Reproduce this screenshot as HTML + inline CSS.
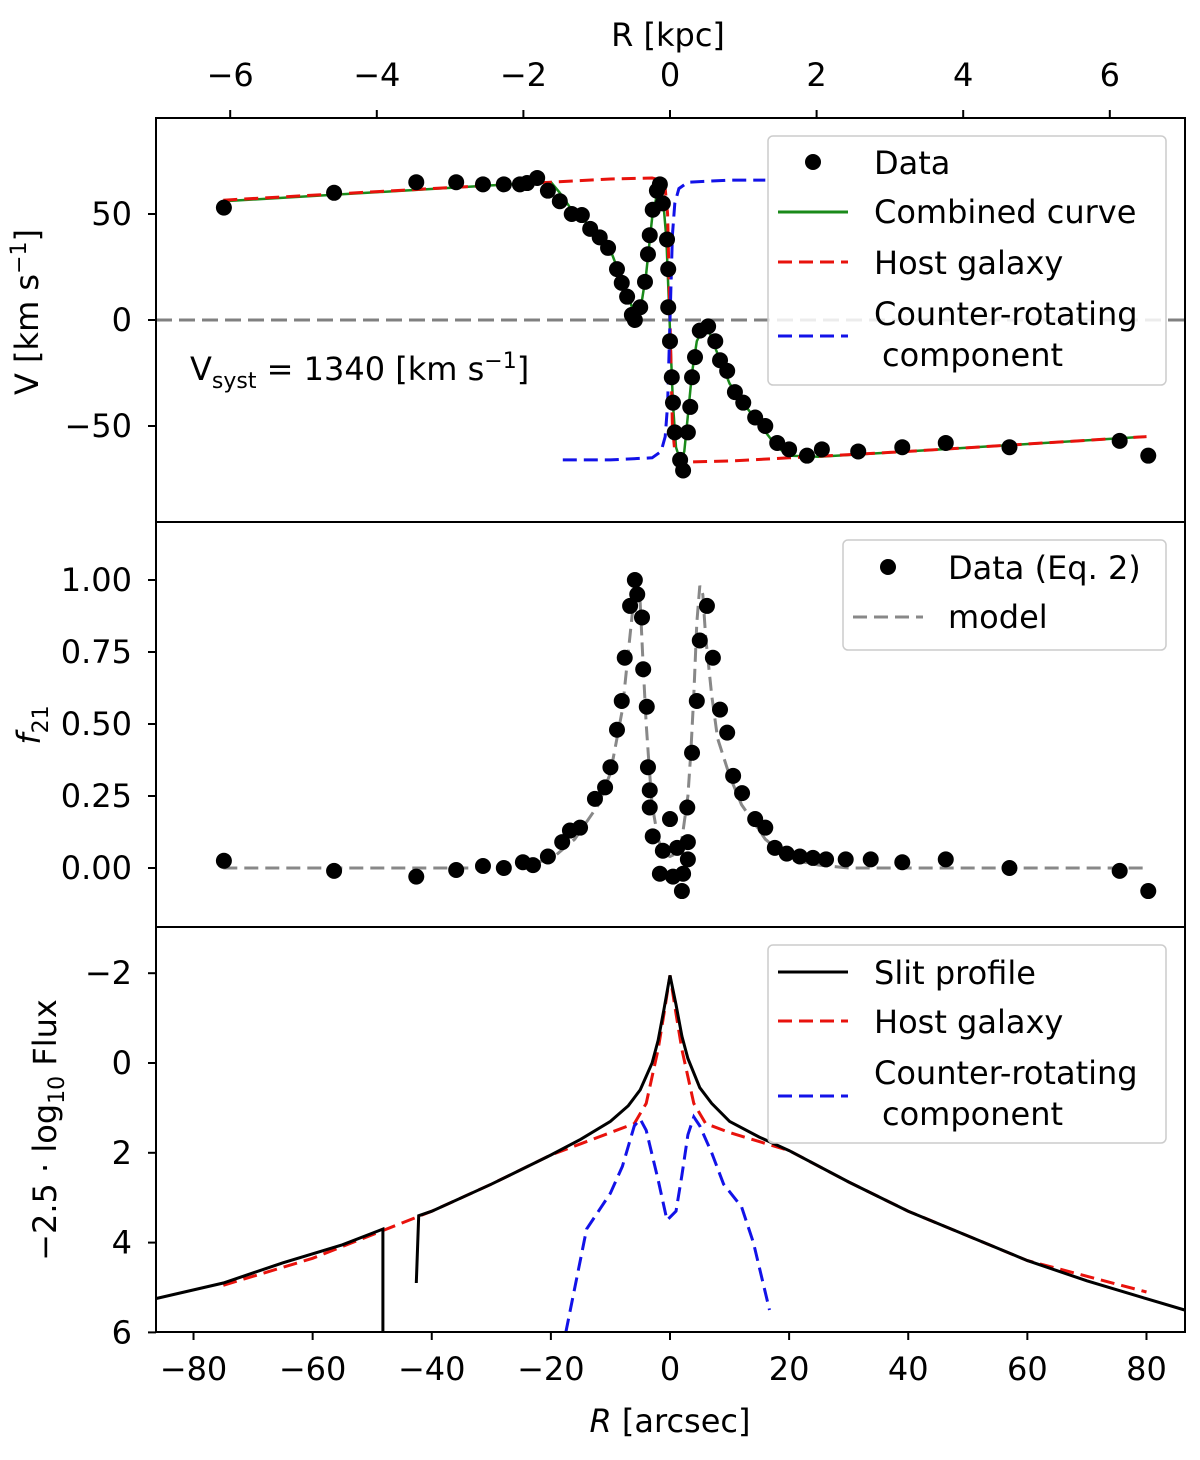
<!DOCTYPE html>
<html><head><meta charset="utf-8"><style>
body{margin:0;background:#fff}
svg text{font-family:"DejaVu Sans","Liberation Sans",sans-serif;fill:#000}
</style></head><body>
<svg id="fig" width="1200" height="1455" viewBox="0 0 1200 1455" xmlns="http://www.w3.org/2000/svg"></svg>
<script>
// ---- data arrays ----
const xTicks=[-80,-60,-40,-20,0,20,40,60,80];
const kpcTicks=[-6,-4,-2,0,2,4,6];
const vTicks=[50,0,-50];
const fTicks=[1.00,0.75,0.50,0.25,0.00];
const mTicks=[-2,0,2,4,6];
const velR=[-74.9,-56.4,-42.6,-35.9,-31.4,-27.9,-25.2,-24,-22.3,-20.5,-18.5,-16.5,-14.8,-13.4,-11.8,-10.4,-8.9,-8.1,-7.2,-6.4,-5.9,-5,-4.2,-3.7,-3.4,-2.9,-2.2,-1.7,-1.2,-0.5,-0.3,-0.3,0,0.3,0.5,0.8,1.7,2.2,3,3.4,3.7,4.2,5,6.4,7.6,8.4,9.6,10.9,12.3,14.3,16,18,20,23,25.5,31.6,39,46.3,57,75.5,80.3];
const velV=[53,60,65,65,64,64,64,64.6,67,61,56,50,49.5,43,39,34,24,17.5,11,2.4,0,6,18,31,40,52,61,64,55,38,24,6,-10,-27,-39,-53,-66,-71,-53,-41,-27,-17.5,-5,-3,-10,-19,-24,-34,-39,-46,-50,-58,-61,-64,-61,-62,-60,-58,-60,-57,-64];
const combR=[-75,-30,-20,-18.5,-16.5,-14.8,-12,-10,-8.5,-7,-6,-5.5,-5,-4,-3,-2,-1.2,-0.6,0,0.5,1,1.8,2.4,3,3.7,4.5,5.5,6.5,8,10,12.5,15,18,20,25,40,80];
const combV=[56,63.5,65,60,52,48,40,33,22,11,3,1,4,22,48,62,58,38,-5,-40,-60,-67,-62,-45,-25,-10,-4,-5,-16,-30,-40,-49,-60,-64,-64.5,-62,-55];
const hostR=[-75,-40,-20,-10,-3,-1.5,-0.8,-0.4,0,0.4,0.8,1.5,3,10,20,40,80];
const hostV=[56.5,62,65,66.5,67,66,62,50,0,-50,-62,-66,-67,-66.5,-65,-62,-55];
const crR=[-18,-10,-3,-1.5,-0.8,-0.4,0,0.4,0.8,1.5,3,10,16];
const crV=[-66,-66,-65,-62,-55,-40,0,40,55,62,65,66,66];
const fR=[-74.9,-56.4,-42.6,-35.9,-31.4,-27.9,-24.7,-23,-20.5,-18.1,-16.8,-15.1,-12.6,-10.9,-10,-8.9,-8.1,-7.6,-6.7,-5.9,-5.5,-4.7,-4.5,-3.9,-3.7,-3.4,-3.4,-2.9,-1.7,-1.2,0,0.5,1.2,2,2.2,2.9,3,3,3.7,4.5,5,6.2,7.2,8.4,9.6,10.6,12.1,14.3,16,17.6,19.6,21.8,24,26.2,29.5,33.7,39,46.3,57,75.5,80.3];
const fV=[0.025,-0.01,-0.03,-0.007,0.007,0,0.02,0.01,0.04,0.09,0.13,0.14,0.24,0.28,0.35,0.48,0.58,0.73,0.91,1.0,0.95,0.87,0.69,0.56,0.35,0.27,0.21,0.11,-0.02,0.06,0.17,-0.03,0.07,-0.08,-0.02,0.21,0.09,0.03,0.40,0.58,0.79,0.91,0.73,0.55,0.47,0.32,0.26,0.17,0.14,0.07,0.05,0.04,0.035,0.03,0.03,0.03,0.02,0.03,0,-0.01,-0.08];
const modR=[-75,-30,-25,-20,-16,-12,-10,-8,-7,-6,-5.5,-5,-4.5,-4,-3.5,-3,-2,-1,0,1,2,3,3.5,4,4.5,5,5.5,6,7,8,10,12,16,20,25,30,80];
const modF=[0,0,0.01,0.03,0.1,0.22,0.33,0.55,0.75,0.95,1.0,0.92,0.7,0.5,0.35,0.22,0.1,0.05,0.04,0.05,0.1,0.25,0.4,0.6,0.85,0.98,0.95,0.8,0.6,0.45,0.32,0.22,0.1,0.03,0.01,0,0];
const slitR1=[-86.4,-75,-65,-55,-48.2];
const slitM1=[5.25,4.9,4.45,4.05,3.7];
const slitR2=[-42.6,-42.2,-40,-30,-20,-15,-10,-7,-5,-3,-2,-1,0,1,2,3,5,7,10,15,20,30,40,50,60,70,80,86.4];
const slitM2=[4.9,3.4,3.3,2.7,2.05,1.7,1.3,0.95,0.6,0,-0.5,-1.2,-1.95,-1.3,-0.6,-0.1,0.55,0.9,1.3,1.65,1.95,2.65,3.3,3.85,4.4,4.85,5.25,5.5];
const hostMR=[-75,-60,-40,-30,-20,-15,-10,-6,-4,-2,-1,0,1,2,4,6,10,15,20,30,40,60,80];
const hostMM=[4.95,4.35,3.3,2.7,2.05,1.8,1.55,1.35,0.9,-0.3,-1.1,-1.95,-1.1,-0.3,0.9,1.35,1.55,1.75,1.95,2.65,3.3,4.4,5.1];
const crMR=[-17.5,-14,-12,-10,-8,-6,-5,-4,-2,-0.5,1,2,3,4,5,7,9,12,14,16.7];
const crMM=[6,3.7,3.3,2.9,2.3,1.4,1.25,1.5,2.6,3.5,3.3,2.5,1.6,1.2,1.4,2.0,2.7,3.2,4.0,5.5];

// ---- axes ----
const L=156,R=1185;
const X=v=>670+v*5.956;
const P1={t:118,b:522}, P2={t:522,b:927}, P3={t:927,b:1332};
const Y1=v=>320-v*2.12;
const Y2=v=>868-v*288;
const Y3=v=>1063+v*44.9;
const svg=document.getElementById('fig');
const NS='http://www.w3.org/2000/svg';
function el(tag,attrs,parent){const e=document.createElementNS(NS,tag);for(const k in attrs)e.setAttribute(k,attrs[k]);(parent||svg).appendChild(e);return e;}
function txt(s,x,y,size,anchor,parent){const t=el('text',{x:x,y:y,'font-size':size,'text-anchor':anchor||'middle'},parent);t.textContent=s;return t;}
function clip(id,p){const c=el('clipPath',{id:id});el('rect',{x:L,y:p.t,width:R-L,height:p.b-p.t},c);}
clip('c1',P1);clip('c2',P2);clip('c3',P3);
function line(xs,ys,Y,attrs,g){let d='';xs.forEach((x,i)=>{d+=(i?'L':'M')+X(x).toFixed(1)+','+Y(ys[i]).toFixed(1);});return el('path',Object.assign({d:d,fill:'none'},attrs),g);}
function minus(v){return String(v).replace('-','\u2212');}

const g1=el('g',{'clip-path':'url(#c1)'});
const g2=el('g',{'clip-path':'url(#c2)'});
const g3=el('g',{'clip-path':'url(#c3)'});

let z=el('line',{x1:L,x2:R,y1:Y1(0),y2:Y1(0),stroke:'#808080','stroke-width':3,'stroke-dasharray':'16,7'},g1);

let s=line(combR,combV,Y1,{stroke:'#1a8a1a','stroke-width':2.5},g1);
s=line(hostR,hostV,Y1,{stroke:'#e8120c','stroke-width':3,'stroke-dasharray':'14,7'},g1);
s=line(crR,crV,Y1,{stroke:'#1212e8','stroke-width':3,'stroke-dasharray':'14,7'},g1);
velR.forEach((r,i)=>{const c=el('circle',{cx:X(r),cy:Y1(velV[i]),r:8,fill:'#000'},g1);});

s=line(modR,modF,Y2,{stroke:'#888','stroke-width':3,'stroke-dasharray':'14,7'},g2);
fR.forEach((r,i)=>{const c=el('circle',{cx:X(r),cy:Y2(fV[i]),r:8,fill:'#000'},g2);});

s=line(hostMR,hostMM,Y3,{stroke:'#e8120c','stroke-width':3,'stroke-dasharray':'14,7'},g3);
s=line(crMR,crMM,Y3,{stroke:'#1212e8','stroke-width':3,'stroke-dasharray':'14,7'},g3);
s=line(slitR1.concat([slitR1[slitR1.length-1]]),slitM1.concat([7]),Y3,{stroke:'#000','stroke-width':3},g3);
s=line(slitR2,slitM2,Y3,{stroke:'#000','stroke-width':3},g3);

[P1,P2,P3].forEach((p,i)=>{const f=el('rect',{x:L,y:p.t,width:R-L,height:p.b-p.t,fill:'none',stroke:'#000','stroke-width':2});});

xTicks.forEach(v=>{el('line',{x1:X(v),x2:X(v),y1:P3.b,y2:P3.b+8,stroke:'#000','stroke-width':2});const t=txt(minus(v),X(v),P3.b+48,32);});
kpcTicks.forEach(v=>{const px=670+v*73.3;el('line',{x1:px,x2:px,y1:P1.t,y2:P1.t-8,stroke:'#000','stroke-width':2});const t=txt(minus(v),px,P1.t-32,32);});
vTicks.forEach(v=>{el('line',{x1:L-8,x2:L,y1:Y1(v),y2:Y1(v),stroke:'#000','stroke-width':2});const t=txt(minus(v),L-24,Y1(v)+11,32,'end');});
fTicks.forEach(v=>{el('line',{x1:L-8,x2:L,y1:Y2(v),y2:Y2(v),stroke:'#000','stroke-width':2});const t=txt(v.toFixed(2),L-24,Y2(v)+11,32,'end');});
mTicks.forEach(v=>{el('line',{x1:L-8,x2:L,y1:Y3(v),y2:Y3(v),stroke:'#000','stroke-width':2});const t=txt(minus(v),L-24,Y3(v)+11,32,'end');});
</script>
<svg style="position:absolute;left:0;top:0" width="1200" height="1455">
<g font-family="DejaVu Sans, Liberation Sans, sans-serif" font-size="32">
<text x="668" y="46" text-anchor="middle">R [kpc]</text>
<text x="670" y="1432" text-anchor="middle"><tspan font-style="italic">R</tspan> [arcsec]</text>
<text transform="translate(38,312) rotate(-90)" text-anchor="middle">V [km s<tspan dy="-12" font-size="22">−1</tspan><tspan dy="12">]</tspan></text>
<text transform="translate(40,725) rotate(-90)" text-anchor="middle"><tspan font-style="italic">f</tspan><tspan dy="8" font-size="22">21</tspan></text>
<text transform="translate(56,1130) rotate(-90)" text-anchor="middle">−2.5 · log<tspan dy="8" font-size="22">10</tspan><tspan dy="-8"> Flux</tspan></text>
<text x="190" y="380">V<tspan dy="8" font-size="22">syst</tspan><tspan dy="-8"> = 1340 [km s</tspan><tspan dy="-12" font-size="22">−1</tspan><tspan dy="12">]</tspan></text>
</g>
<g font-family="DejaVu Sans, Liberation Sans, sans-serif" font-size="32">
<rect x="768" y="136" width="398" height="249" rx="5" fill="#fff" fill-opacity="0.85" stroke="#ccc" stroke-width="1.5"/>
<circle cx="813" cy="162" r="8" fill="#000"/><text x="874" y="174">Data</text>
<line x1="778" x2="848" y1="212" y2="212" stroke="#1a8a1a" stroke-width="3"/><text x="874" y="223">Combined curve</text>
<line x1="778" x2="848" y1="262" y2="262" stroke="#e8120c" stroke-width="3" stroke-dasharray="14,7"/><text x="874" y="274">Host galaxy</text>
<line x1="778" x2="848" y1="336" y2="336" stroke="#1212e8" stroke-width="3" stroke-dasharray="14,7"/><text x="874" y="325">Counter-rotating</text><text x="882" y="366">component</text>
</g>
<g font-family="DejaVu Sans, Liberation Sans, sans-serif" font-size="32">
<rect x="843" y="540" width="323" height="110" rx="5" fill="#fff" fill-opacity="0.85" stroke="#ccc" stroke-width="1.5"/>
<circle cx="888" cy="567" r="8" fill="#000"/><text x="948" y="579">Data (Eq. 2)</text>
<line x1="853" x2="923" y1="617" y2="617" stroke="#888" stroke-width="3" stroke-dasharray="14,7"/><text x="948" y="628">model</text>
</g>
<g font-family="DejaVu Sans, Liberation Sans, sans-serif" font-size="32">
<rect x="768" y="945" width="398" height="198" rx="5" fill="#fff" fill-opacity="0.85" stroke="#ccc" stroke-width="1.5"/>
<line x1="778" x2="848" y1="972" y2="972" stroke="#000" stroke-width="3"/><text x="874" y="984">Slit profile</text>
<line x1="778" x2="848" y1="1021" y2="1021" stroke="#e8120c" stroke-width="3" stroke-dasharray="14,7"/><text x="874" y="1033">Host galaxy</text>
<line x1="778" x2="848" y1="1096" y2="1096" stroke="#1212e8" stroke-width="3" stroke-dasharray="14,7"/><text x="874" y="1084">Counter-rotating</text><text x="882" y="1125">component</text>
</g>
</svg>
</body></html>
